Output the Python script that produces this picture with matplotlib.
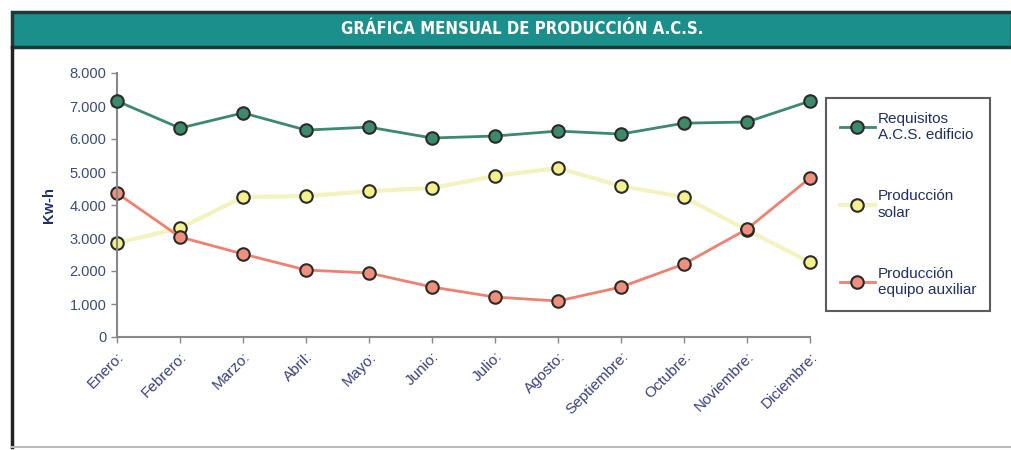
import matplotlib
matplotlib.use("Agg")
import matplotlib.pyplot as plt
from matplotlib.patches import Rectangle
from matplotlib.lines import Line2D
from matplotlib.ticker import FuncFormatter

plt.rcParams['font.family'] = ['Liberation Sans', 'DejaVu Sans']

meses = ["Enero:", "Febrero:", "Marzo:", "Abril:", "Mayo:", "Junio:", "Julio:",
         "Agosto:", "Septiembre:", "Octubre:", "Noviembre:", "Diciembre:"]
requisitos = [7150, 6330, 6790, 6270, 6360, 6030, 6090, 6240, 6150, 6480, 6515, 7150]
solar = [2850, 3300, 4240, 4270, 4420, 4515, 4880, 5120, 4575, 4240, 3240, 2270]
auxiliar = [4360, 3030, 2515, 2030, 1940, 1515, 1210, 1090, 1515, 2210, 3270, 4820]
titulo = "GRÁFICA MENSUAL DE PRODUCCIÓN A.C.S."

navy = "#1f2d6b"

fig = plt.figure(figsize=(10.12, 4.5), dpi=100)

# title bar
fig.patches.append(Rectangle((12 / 1012, 1 - 47 / 450), 1 - 12 / 1012, 35 / 450,
                             transform=fig.transFigure, facecolor="#1a8f8c",
                             edgecolor="#1d3a3a", linewidth=2.5, zorder=0))
fig.text(522 / 1012, 1 - 29 / 450, titulo, color="white", fontsize=12, fontweight="bold",
         ha="center", va="center", fontstretch="condensed",
         family=['Liberation Sans Narrow', 'DejaVu Sans'])
# frame
fig.add_artist(Line2D([12 / 1012, 12 / 1012], [1 - 47 / 450, 1 - 447 / 450],
                      transform=fig.transFigure, color="#222222", linewidth=2.5))
fig.add_artist(Line2D([12 / 1012, 1], [1 - 447 / 450, 1 - 447 / 450],
                      transform=fig.transFigure, color="#bbbbbb", linewidth=1.5))

ax = fig.add_axes([117 / 1012, 1 - 337 / 450, 693 / 1012, 264 / 450])
x = list(range(len(meses)))

ax.plot(x, requisitos, color="#3b8a6c", linewidth=2, marker="o", markersize=9,
        markerfacecolor="#3d8a6a", markeredgecolor="#2a2a2a", markeredgewidth=1.5,
        label="Requisitos\nA.C.S. edificio", clip_on=False, zorder=3)
ax.plot(x, solar, color="#f3f3c0", linewidth=3, marker="o", markersize=9,
        markerfacecolor="#f4f08c", markeredgecolor="#2a2a2a", markeredgewidth=1.5,
        label="Producción\nsolar", clip_on=False, zorder=2)
ax.plot(x, auxiliar, color="#f08070", linewidth=2, marker="o", markersize=9,
        markerfacecolor="#f0907c", markeredgecolor="#2a2a2a", markeredgewidth=1.5,
        label="Producción\nequipo auxiliar", clip_on=False, zorder=2)

ax.set_xlim(0, 11)
ax.set_ylim(0, 8000)
ax.set_yticks(range(0, 8001, 1000))
ax.yaxis.set_major_formatter(FuncFormatter(lambda v, p: "{:,.0f}".format(v).replace(",", ".")))
ax.set_xticks(x)
ax.set_xticklabels(meses, rotation=45, ha="right", va="top", rotation_mode="anchor",
                   fontsize=11, color="#3a3f80")
for lab in ax.get_yticklabels():
    lab.set_fontsize(10.5)
    lab.set_color("#3a4a7a")
ax.set_ylabel("Kw-h", fontsize=10.5, fontweight="bold", color=navy, labelpad=10)

for s in ["top", "right"]:
    ax.spines[s].set_visible(False)
for s in ["left", "bottom"]:
    ax.spines[s].set_color("#888888")
    ax.spines[s].set_linewidth(1.5)
ax.tick_params(axis="both", direction="out", length=4, color="#888888", width=1)
ax.tick_params(axis="x", pad=5)

leg = ax.legend(loc="upper left", bbox_to_anchor=(826 / 1012, 1 - 98 / 450),
                bbox_transform=fig.transFigure, frameon=True, fancybox=False,
                fontsize=11, labelspacing=3.1, handlelength=2.3, handletextpad=0.2,
                borderpad=0.9, borderaxespad=0)
leg.get_frame().set_edgecolor("#333333")
leg.get_frame().set_linewidth(1.5)
for t in leg.get_texts():
    t.set_color(navy)

fig.savefig("out.png", dpi=100)
